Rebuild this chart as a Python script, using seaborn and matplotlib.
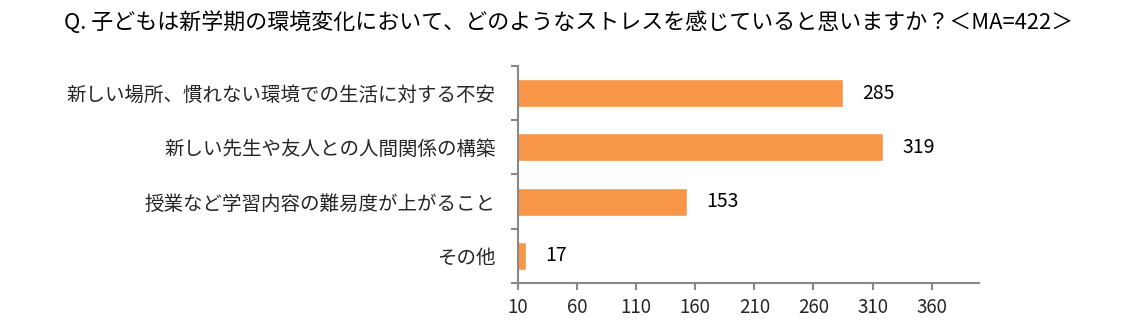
import matplotlib
matplotlib.use("Agg")
import matplotlib.pyplot as plt
import seaborn as sns
import pandas as pd
import numpy as np

title = "Q. 子どもは新学期の環境変化において、どのようなストレスを感じていると思いますか？＜MA=422＞"
categories = [
    "新しい場所、慣れない環境での生活に対する不安",
    "新しい先生や友人との人間関係の構築",
    "授業など学習内容の難易度が上がること",
    "その他",
]
values = [285, 319, 153, 17]
x_ticks = [10, 60, 110, 160, 210, 260, 310, 360]

sns.set_theme(style="white")
plt.rcParams["font.family"] = ["Noto Sans CJK JP", "DejaVu Sans"]

df = pd.DataFrame({"category": categories, "value": values})

fig = plt.figure(figsize=(11.28, 3.28), dpi=100)
ax = fig.add_axes([0.459, 0.137, 0.409, 0.662])

sns.barplot(data=df, x="value", y="category", orient="h", color="#F79646",
            saturation=1, width=0.52, ax=ax)

ax.set_xlim(10, 400)
ax.set_xticks(x_ticks)
ax.set_xticklabels([str(t) for t in x_ticks], fontsize=13.5)
ax.set_xlabel("")
ax.set_ylabel("")
ax.tick_params(axis="y", which="major", length=0, labelsize=14, pad=16)
ax.set_yticks(np.arange(-0.5, len(categories) + 0.5, 1), minor=True)
ax.tick_params(axis="y", which="minor", length=5, width=1.5, color="#888888", left=True)
ax.tick_params(axis="x", which="major", length=5, width=1.5, color="#888888", bottom=True, pad=5)

for side in ["top", "right"]:
    ax.spines[side].set_visible(False)
for side in ["left", "bottom"]:
    ax.spines[side].set_color("#888888")
    ax.spines[side].set_linewidth(1.5)

for c in ax.containers:
    ax.bar_label(c, labels=[str(v) for v in values], padding=14, fontsize=14, color="black")

fig.text(0.504, 0.93, title, ha="center", va="center", fontsize=15.8, color="black")

fig.savefig("out.png", dpi=100, facecolor="white")
